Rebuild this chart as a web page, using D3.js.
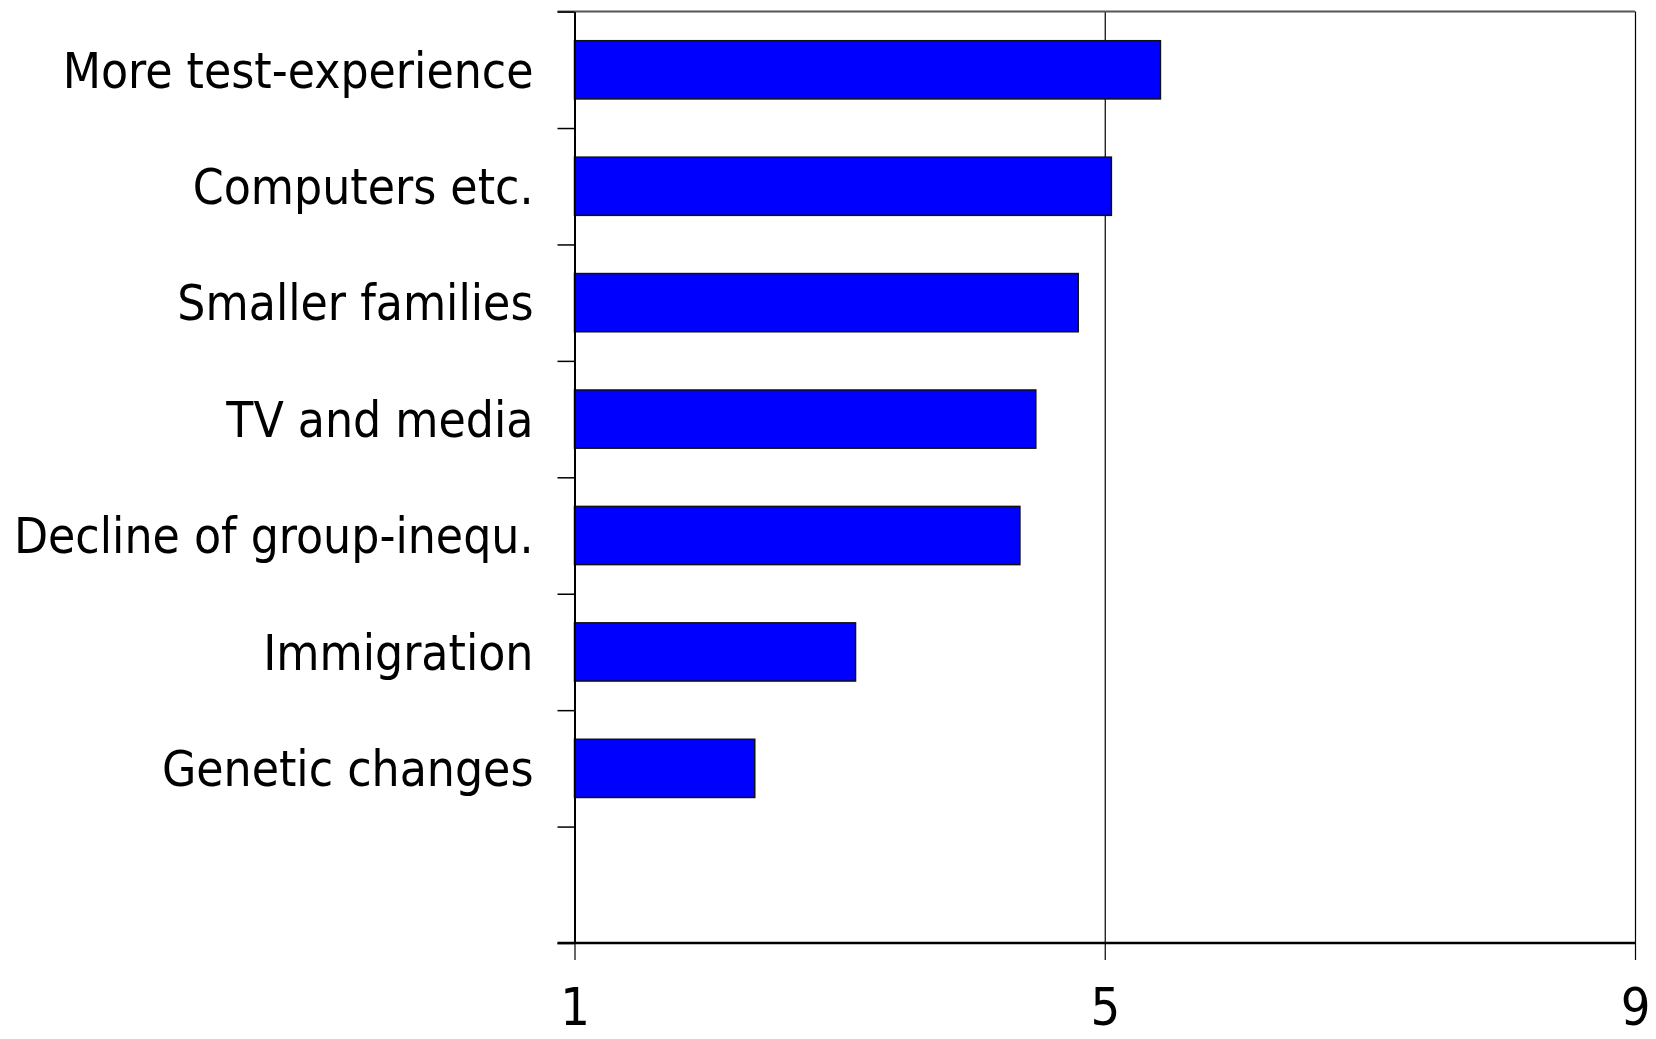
<!DOCTYPE html>
<html>
<head>
<meta charset="utf-8">
<script src="https://cdn.jsdelivr.net/npm/d3@7"></script>
<style>
  html, body { margin: 0; padding: 0; background: #fff; }
  svg { display: block; }
</style>
</head>
<body>
<svg id="chart"></svg>
<script>
// categories top to bottom, last slot stays empty
var categories = ["More test-experience", "Computers etc.", "Smaller families", "TV and media",
                  "Decline of group-inequ.", "Immigration", "Genetic changes"]
var values = [5.42, 5.05, 4.80, 4.48, 4.36, 3.12, 2.36]
var xTicks = [1, 5, 9]

var width = 1656
var height = 1039
var mLeft = 574.5, mRight = 1635, mTop = 11.6, mBottom = 943
var font = "'DejaVu Sans Condensed', 'DejaVu Sans', sans-serif"

var svg = d3.select("#chart").attr("width", width).attr("height", height)

var x = d3.scaleLinear().domain([1, 9]).range([mLeft, mRight])
var slots = categories.concat([""])
var y = d3.scaleBand().domain(d3.range(slots.length)).range([mTop, mBottom]).padding(0)
var yEdge = d3.scaleLinear().domain([0, slots.length]).range([mTop, mBottom])

// vertical gridlines at 5 and 9 (incl. little tick below)
svg.append("g")
    .attr("transform", `translate(0,${mBottom})`)
    .call(d3.axisBottom(x).tickValues(xTicks).tickSize(-(mBottom - mTop)).tickFormat(""))
    .call(g => g.select(".domain").remove())
    .call(g => g.selectAll("line").attr("stroke", "#000").attr("stroke-width", 1.2))

// top border
svg.append("line")
    .attr("x1", mLeft - 17).attr("x2", mRight)
    .attr("y1", mTop).attr("y2", mTop)
    .attr("stroke", "#555").attr("stroke-width", 2)

// bars
svg.append("g")
    .selectAll("rect")
    .data(values)
    .join("rect")
    .attr("x", x(1))
    .attr("y", (d, i) => y(i) + y.bandwidth() * 0.25)
    .attr("width", d => x(d) - x(1))
    .attr("height", y.bandwidth() * 0.5)
    .attr("fill", "#0000FF")
    .attr("stroke", "#111")
    .attr("stroke-width", 1.5)

// left axis with ticks between categories
svg.append("g")
    .attr("transform", `translate(${mLeft},0)`)
    .call(d3.axisLeft(yEdge).ticks(slots.length).tickSize(17).tickSizeOuter(0).tickFormat(""))
    .call(g => g.select(".domain").attr("stroke", "#000").attr("stroke-width", 2))
    .call(g => g.selectAll(".tick line").attr("stroke", "#000").attr("stroke-width", 1.5))

// category labels
svg.append("g")
    .selectAll("text")
    .data(categories)
    .join("text")
    .attr("x", mLeft - 41)
    .attr("y", (d, i) => y(i) + y.bandwidth() / 2)
    .attr("dy", "0.36em")
    .attr("text-anchor", "end")
    .style("font-family", font)
    .style("font-size", "49.3px")
    .text(d => d)

// bottom axis
svg.append("g")
    .attr("transform", `translate(0,${mBottom})`)
    .call(d3.axisBottom(x).tickValues(xTicks).tickSize(17).tickSizeOuter(0).tickPadding(28))
    .call(g => g.select(".domain").attr("stroke", "#000").attr("stroke-width", 2.5).attr("d", `M${mLeft - 17},0H${mRight}`))
    .call(g => g.selectAll(".tick line").attr("stroke", "#000").attr("stroke-width", 1.2))
    .call(g => g.selectAll(".tick text")
        .attr("fill", "#000")
        .style("font-family", font)
        .style("font-size", "52px"))
</script>
</body>
</html>
